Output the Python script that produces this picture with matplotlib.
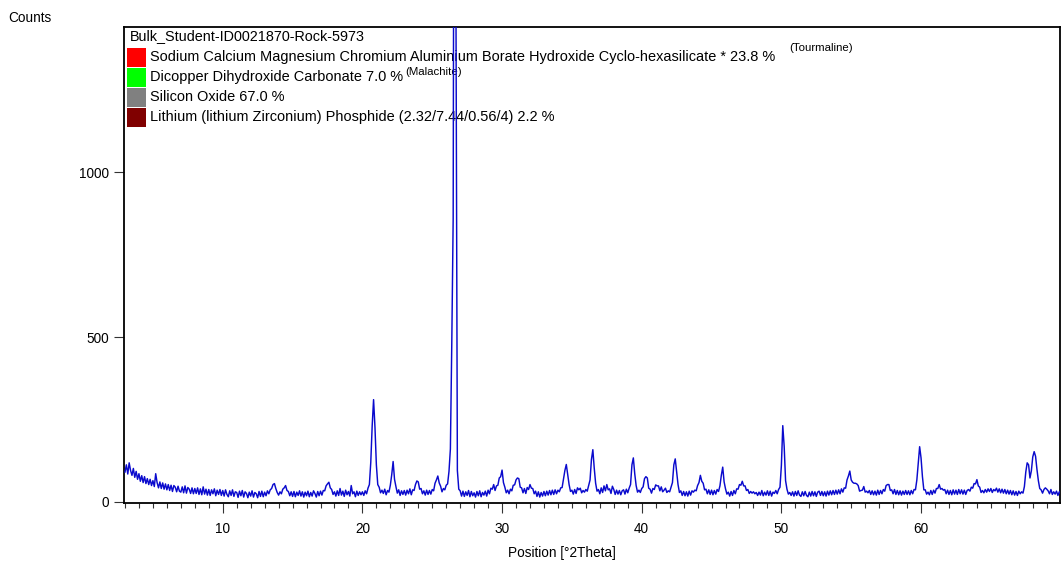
import numpy as np
import matplotlib.pyplot as plt
from matplotlib.patches import Rectangle

plt.rcParams['font.family'] = ['Liberation Sans', 'DejaVu Sans']

# scan: 3.0 .. 70.0 deg 2Theta, step 0.1
start_pos = 3.0
step_pos = 0.1

counts_03_10 = [90, 112, 84, 118, 95, 80, 101, 74, 92, 68,
                85, 62, 79, 58, 76, 55, 70, 52, 68, 49,
                64, 46, 85, 58, 42, 60, 40, 57, 38, 54,
                36, 52, 34, 50, 31, 49, 44, 30, 47, 32,
                29, 45, 27, 48, 26, 43, 38, 25, 42, 24,
                40, 25, 42, 22, 39, 21, 45, 23, 38, 20,
                37, 19, 36, 24, 39, 18, 35, 22, 37, 19]
counts_10_20 = [34, 17, 36, 22, 15, 33, 19, 36, 16, 30,
                28, 13, 32, 18, 34, 14, 30, 25, 12, 29,
                17, 33, 14, 28, 24, 12, 31, 16, 32, 15,
                29, 18, 33, 24, 36, 40, 52, 55, 40, 28,
                20, 30, 24, 38, 42, 49, 34, 31, 18, 30,
                16, 31, 15, 29, 19, 33, 17, 30, 14, 29,
                18, 32, 15, 28, 17, 33, 25, 14, 31, 18,
                32, 20, 34, 33, 48, 54, 59, 42, 37, 22,
                30, 17, 33, 19, 40, 20, 32, 16, 35, 21,
                31, 17, 49, 24, 30, 15, 32, 19, 30, 21]
counts_20_30 = [30, 19, 33, 24, 41, 52, 120, 230, 310, 226,
                112, 52, 44, 27, 35, 25, 38, 21, 34, 29,
                50, 82, 122, 68, 46, 26, 36, 19, 33, 22,
                34, 20, 35, 24, 39, 21, 36, 34, 52, 63,
                60, 38, 40, 24, 33, 20, 35, 22, 34, 23,
                37, 33, 56, 66, 78, 57, 47, 30, 40, 36,
                50, 54, 92, 160, 480, 860, 3200, 1500, 95, 38,
                33, 17, 32, 16, 30, 19, 34, 15, 31, 18,
                27, 14, 31, 18, 33, 15, 28, 20, 32, 17,
                35, 24, 41, 38, 52, 34, 48, 50, 72, 76]
counts_30_40 = [96, 58, 44, 27, 35, 24, 38, 33, 50, 51,
                66, 72, 70, 44, 42, 27, 40, 25, 43, 37,
                52, 41, 40, 24, 32, 16, 30, 14, 28, 17,
                31, 18, 32, 20, 34, 21, 35, 22, 36, 24,
                35, 30, 42, 43, 70, 95, 113, 82, 52, 31,
                35, 23, 37, 25, 42, 36, 41, 27, 34, 29,
                37, 32, 49, 66, 128, 158, 102, 56, 32, 37,
                24, 42, 28, 48, 33, 52, 36, 39, 25, 47,
                37, 22, 35, 23, 34, 21, 33, 36, 23, 38,
                27, 41, 52, 112, 133, 85, 49, 29, 35, 28]
counts_40_50 = [40, 45, 70, 76, 72, 41, 38, 26, 40, 37,
                51, 48, 48, 33, 45, 30, 35, 41, 28, 33,
                30, 44, 58, 112, 130, 92, 52, 28, 33, 19,
                31, 18, 30, 17, 32, 20, 33, 29, 35, 33,
                49, 58, 80, 62, 56, 36, 38, 24, 36, 22,
                35, 21, 34, 23, 37, 31, 48, 80, 105, 60,
                39, 23, 29, 17, 31, 19, 34, 24, 39, 38,
                52, 50, 62, 48, 48, 34, 37, 25, 31, 26,
                30, 24, 28, 19, 29, 20, 34, 18, 29, 20,
                33, 19, 32, 17, 29, 25, 34, 24, 37, 44]
counts_50_60 = [110, 231, 168, 64, 38, 23, 28, 19, 30, 17,
                31, 19, 33, 20, 16, 30, 18, 31, 19, 15,
                29, 17, 31, 18, 30, 16, 29, 32, 19, 31,
                18, 30, 17, 32, 20, 33, 21, 34, 22, 35,
                23, 36, 24, 39, 29, 42, 41, 66, 78, 93,
                66, 59, 56, 56, 54, 49, 32, 34, 35, 46,
                29, 32, 27, 34, 22, 33, 21, 32, 20, 35,
                22, 34, 24, 37, 32, 49, 52, 52, 34, 36,
                24, 37, 22, 34, 21, 33, 20, 32, 22, 34,
                22, 33, 21, 34, 24, 37, 36, 66, 118, 167]
counts_60_70 = [133, 76, 36, 36, 23, 29, 21, 34, 22, 35,
                26, 40, 40, 52, 38, 40, 35, 37, 24, 35,
                22, 34, 21, 36, 23, 35, 22, 37, 24, 36,
                23, 35, 22, 34, 37, 32, 44, 41, 55, 54,
                67, 48, 44, 28, 34, 27, 37, 29, 39, 31,
                40, 28, 37, 33, 41, 29, 39, 27, 38, 26,
                37, 24, 35, 23, 34, 21, 33, 20, 31, 19,
                32, 24, 30, 26, 46, 90, 118, 112, 72, 94,
                136, 152, 138, 98, 64, 40, 36, 26, 37, 42,
                38, 33, 24, 37, 22, 30, 23, 32, 19, 30,
                23]

title = 'Bulk_Student-ID0021870-Rock-5973'
phase_labels = ['Sodium Calcium Magnesium Chromium Aluminium Borate Hydroxide Cyclo-hexasilicate * 23.8 %',
                'Dicopper Dihydroxide Carbonate 7.0 %',
                'Silicon Oxide 67.0 %',
                'Lithium (lithium Zirconium) Phosphide (2.32/7.44/0.56/4) 2.2 %']
phase_colors = ['#ff0000', '#00ff00', '#808080', '#800000']

counts = np.array(counts_03_10 + counts_10_20 + counts_20_30 + counts_30_40
                  + counts_40_50 + counts_50_60 + counts_60_70)
position = start_pos + step_pos * np.arange(len(counts))

W, H = 1062, 566
fig = plt.figure(figsize=(W / 100, H / 100), dpi=100)
# axes box in pixels: left 124, right 1060, top 27, bottom 503
L, R, T, B = 124, 1060, 27, 503
ax = fig.add_axes([L / W, 1 - B / H, (R - L) / W, (B - T) / H])

ax.plot(position, counts, color='#0a0acd', lw=1.05, zorder=3)
ax.set_xlim(2.93, 69.95)
ax.set_ylim(-4, 1442)

ax.set_xticks([10, 20, 30, 40, 50, 60])
ax.set_xticks(np.arange(3, 70), minor=True)
ax.set_yticks([0, 500, 1000])
ax.tick_params(axis='both', which='major', direction='out', length=7.5, width=0.8,
               labelsize=9.8, color='#333333')
ax.tick_params(axis='x', which='minor', direction='out', length=3.5, width=0.8, color='#333333')
ax.tick_params(axis='x', which='major', pad=6.5)
ax.tick_params(axis='y', which='major', pad=3.5)
for s in ax.spines.values():
    s.set_linewidth(1.3)
    s.set_color('black')


def ax_xy(px, py):
    return (px - L) / (R - L), (B - py) / (B - T)


ax.text(*ax_xy(130, 36), title, fontsize=10.35, va='center', ha='left',
        transform=ax.transAxes, zorder=1)
row_y = [57, 77, 97, 117.5]
for lab, col, yc in zip(phase_labels, phase_colors, row_y):
    x0, y0 = ax_xy(127, yc + 9.5)
    ax.add_patch(Rectangle((x0, y0), 19 / (R - L), 19 / (B - T), facecolor=col,
                           edgecolor='none', transform=ax.transAxes, zorder=1))
    ax.text(*ax_xy(150, yc), lab, fontsize=10.45, va='center', ha='left',
            transform=ax.transAxes, zorder=1)

ax.text(*ax_xy(789, 48), '(Tourmaline)', fontsize=8.2, va='center', ha='left',
        transform=ax.transAxes, zorder=1)
ax.text(*ax_xy(405, 72), '(Malachite)', fontsize=8.2, va='center', ha='left',
        transform=ax.transAxes, zorder=1)

fig.text(8 / W, 1 - 18 / H, 'Counts', fontsize=9.8, va='center', ha='left')
fig.text(561.5 / W, 1 - 553 / H, 'Position [°2Theta]', fontsize=9.8, va='center', ha='center')

fig.savefig('out.png', dpi=100)
